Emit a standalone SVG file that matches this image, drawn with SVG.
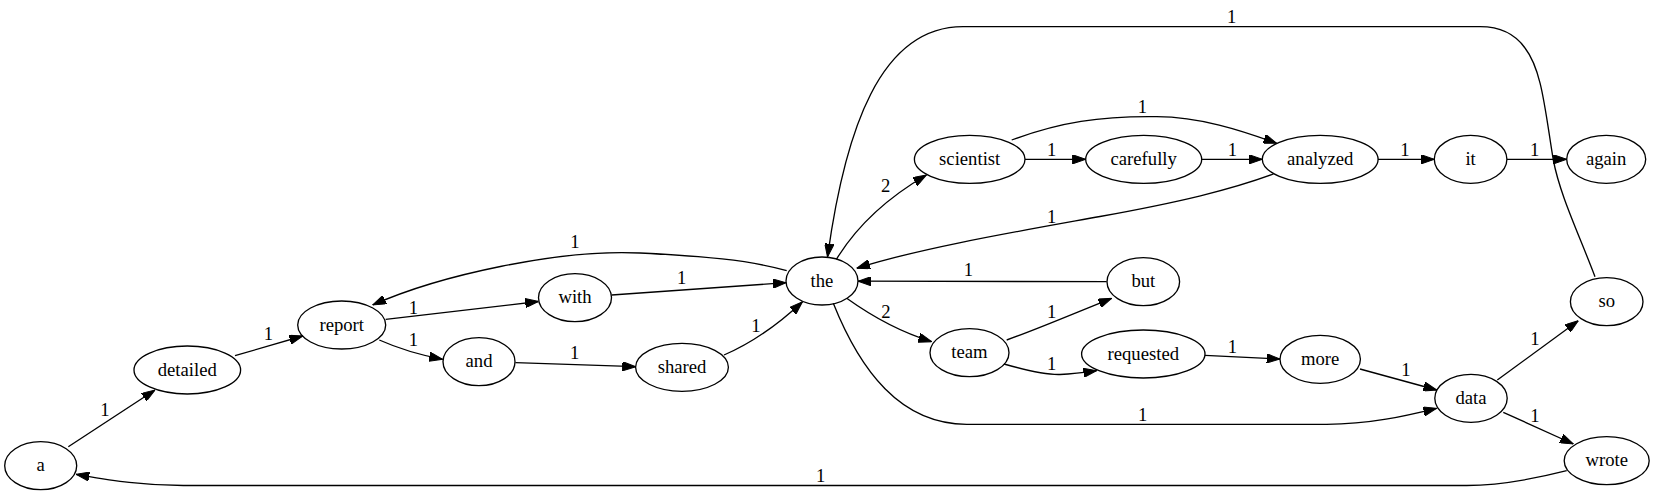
<svg xmlns="http://www.w3.org/2000/svg" width="1655" height="494" viewBox="0 0 1655 494">
<style>
.node ellipse{fill:none;stroke:#000;stroke-width:1.33}
.node text{font-family:"Liberation Serif","Times New Roman",serif;font-size:18.67px;text-anchor:middle;fill:#000}
.edges path{fill:none;stroke:#000;stroke-width:1.33;marker-end:url(#arr)}
.edges text{font-family:"Liberation Serif","Times New Roman",serif;font-size:18.67px;text-anchor:middle;fill:#000}
</style>
<defs>
<marker id="arr" viewBox="0 0 13.33 9.33" refX="13.33" refY="4.67" markerWidth="13.33" markerHeight="9.33" markerUnits="userSpaceOnUse" orient="auto">
<path d="M0,0 L13.33,4.67 L0,9.33 z" fill="#000" stroke="#000" stroke-width="1"/>
</marker>
</defs>
<rect x="0" y="0" width="1655" height="494" fill="#fff"/>
<g class="edges" id="edges">
<path d="M68.3,446.7 L155,390"/><text x="105" y="416">1</text>
<path d="M235,355.7 L302.7,336"/><text x="268.3" y="339.5">1</text>
<path d="M385.7,319.3 L538.5,301.5"/><text x="413.3" y="313.5">1</text>
<path d="M379.3,340 C395,347 420,355 442.7,359.3"/><text x="413.3" y="346">1</text>
<path d="M786.7,270.7 C750,260 700,256 640,253 C560,249 440,275 372.7,305"/><text x="575" y="247.7">1</text>
<path d="M611.7,295 L786.2,282.7"/><text x="681.7" y="284.3">1</text>
<path d="M515.4,362.7 L635.7,366.7"/><text x="574.6" y="359.3">1</text>
<path d="M724,355 C745,346 770,332 802.5,301.7"/><text x="756" y="332">1</text>
<path d="M836.4,259.3 C850,237 875,205 926.4,175"/><text x="885.7" y="192">2</text>
<path d="M1595,276.7 C1578,232 1560,195 1553.3,160 C1545,110 1542,70 1525,48 C1515,34 1500,26.7 1480,26.7 L963,26.7 C880,26.7 845,130 827.5,257"/><text x="1231.7" y="23.3">1</text>
<path d="M1025,159.3 L1085.7,159.3"/><text x="1051.7" y="156">1</text>
<path d="M1011.7,140 C1060,122 1100,116 1156.7,116.7 C1200,117 1240,130 1276.7,143.3"/><text x="1142.3" y="112.7">1</text>
<path d="M1201.7,159.3 L1262.3,159.3"/><text x="1232.3" y="156">1</text>
<path d="M1273.5,174 C1230,190 1180,202 1100,216.5 C1020,231 920,248 856.7,268.3"/><text x="1051.7" y="222.7">1</text>
<path d="M1378,159.3 L1434.3,159.3"/><text x="1405" y="156">1</text>
<path d="M1507,159.3 L1566.7,159.3"/><text x="1534.7" y="156">1</text>
<path d="M1106.7,281.7 L858,281.2"/><text x="968.3" y="276">1</text>
<path d="M846.7,298.3 C870,315 900,332 931.7,341.7"/><text x="886" y="317.7">2</text>
<path d="M1006.7,340 C1040,328 1075,313 1111.7,298.3"/><text x="1051.7" y="317.7">1</text>
<path d="M1004,364 C1025,370 1045,375 1060,374.5 C1075,374 1085,372.5 1096.7,370.7"/><text x="1051.7" y="370">1</text>
<path d="M1205,355.3 L1280,359"/><text x="1232.3" y="352.7">1</text>
<path d="M833.3,303.3 C860,370 900,424.3 966.7,424.3 L1326.5,424.3 C1370,424.3 1405,416 1436.7,408.3"/><text x="1142.6" y="421">1</text>
<path d="M1360,369 L1436.7,390"/><text x="1406" y="376">1</text>
<path d="M1497.3,380 L1578.3,320.7"/><text x="1535" y="345.3">1</text>
<path d="M1503.3,412.3 L1573.3,444"/><text x="1535" y="421.7">1</text>
<path d="M1566.7,470.7 C1530,480 1500,485.5 1466.7,485.5 L183.3,485.5 C140,485.5 110,480 76,474.3"/><text x="820.7" y="481.7">1</text>
</g>
<g class="node" id="n-a"><ellipse cx="40.7" cy="465.7" rx="36" ry="24"/><text x="40.7" y="471.3">a</text></g>
<g class="node" id="n-detailed"><ellipse cx="187.3" cy="370" rx="53.3" ry="24"/><text x="187.3" y="375.6">detailed</text></g>
<g class="node" id="n-report"><ellipse cx="341.7" cy="325" rx="44" ry="24"/><text x="341.7" y="330.6">report</text></g>
<g class="node" id="n-and"><ellipse cx="479" cy="361.7" rx="36" ry="24"/><text x="479" y="367.3">and</text></g>
<g class="node" id="n-with"><ellipse cx="575" cy="297.7" rx="36.5" ry="24"/><text x="575" y="303.3">with</text></g>
<g class="node" id="n-the"><ellipse cx="822" cy="281" rx="36" ry="24"/><text x="822" y="286.6">the</text></g>
<g class="node" id="n-shared"><ellipse cx="682" cy="367.3" rx="46.4" ry="24"/><text x="682" y="372.9">shared</text></g>
<g class="node" id="n-scientist"><ellipse cx="969.7" cy="159.3" rx="55.3" ry="24"/><text x="969.7" y="164.9">scientist</text></g>
<g class="node" id="n-carefully"><ellipse cx="1143.7" cy="159.3" rx="58" ry="24"/><text x="1143.7" y="164.9">carefully</text></g>
<g class="node" id="n-analyzed"><ellipse cx="1320.2" cy="159.3" rx="57.9" ry="24"/><text x="1320.2" y="164.9">analyzed</text></g>
<g class="node" id="n-it"><ellipse cx="1470.6" cy="159.3" rx="36.3" ry="24"/><text x="1470.6" y="164.9">it</text></g>
<g class="node" id="n-again"><ellipse cx="1606.2" cy="159.3" rx="39.5" ry="24"/><text x="1606.2" y="164.9">again</text></g>
<g class="node" id="n-but"><ellipse cx="1143.3" cy="281.7" rx="36.3" ry="24"/><text x="1143.3" y="287.3">but</text></g>
<g class="node" id="n-team"><ellipse cx="969.5" cy="352.7" rx="39.5" ry="24"/><text x="969.5" y="358.3">team</text></g>
<g class="node" id="n-requested"><ellipse cx="1143.3" cy="354" rx="61.7" ry="24"/><text x="1143.3" y="359.6">requested</text></g>
<g class="node" id="n-more"><ellipse cx="1320.2" cy="359.3" rx="40.2" ry="24"/><text x="1320.2" y="364.9">more</text></g>
<g class="node" id="n-data"><ellipse cx="1471" cy="398.3" rx="36.2" ry="24"/><text x="1471" y="403.9">data</text></g>
<g class="node" id="n-so"><ellipse cx="1606.7" cy="301.7" rx="36.3" ry="24"/><text x="1606.7" y="307.3">so</text></g>
<g class="node" id="n-wrote"><ellipse cx="1606.7" cy="460.7" rx="42.5" ry="24"/><text x="1606.7" y="466.3">wrote</text></g>
</svg>
